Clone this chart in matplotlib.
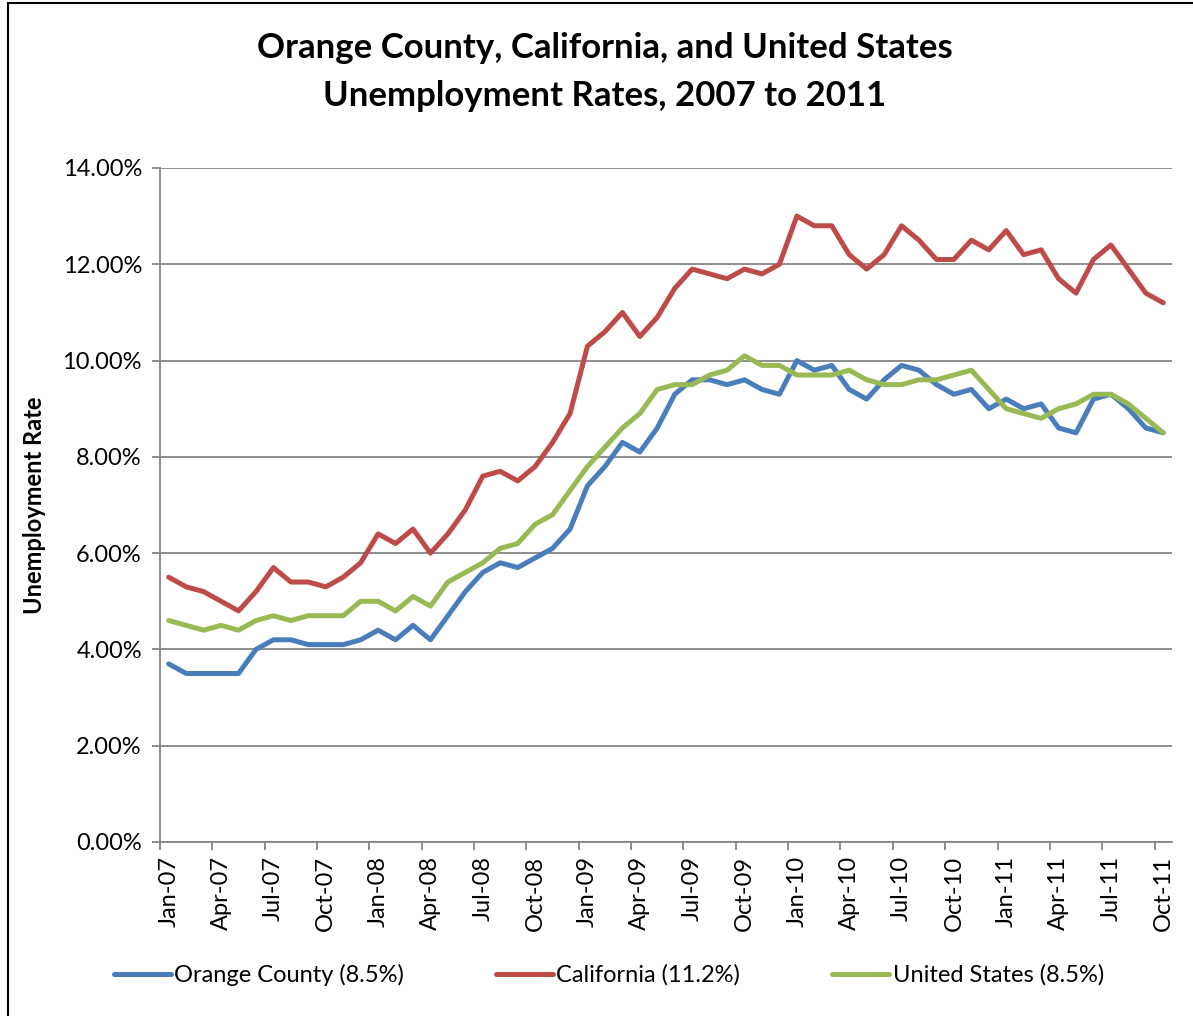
import matplotlib.pyplot as plt
from matplotlib.patches import Rectangle
from matplotlib.ticker import FuncFormatter

# monthly rates, Jan-07 .. Oct-11
months = []
for yr in range(7, 12):
    for m in ['Jan', 'Feb', 'Mar', 'Apr', 'May', 'Jun', 'Jul', 'Aug', 'Sep', 'Oct', 'Nov', 'Dec']:
        months.append('%s-%02d' % (m, yr))
months = months[:58]

orange_county = [3.7, 3.5, 3.5, 3.5, 3.5, 4.0, 4.2, 4.2, 4.1, 4.1, 4.1, 4.2, 4.4, 4.2, 4.5, 4.2, 4.7, 5.2, 5.6, 5.8,
                 5.7, 5.9, 6.1, 6.5, 7.4, 7.8, 8.3, 8.1, 8.6, 9.3, 9.6, 9.6, 9.5, 9.6, 9.4, 9.3, 10.0, 9.8, 9.9,
                 9.4, 9.2, 9.6, 9.9, 9.8, 9.5, 9.3, 9.4, 9.0, 9.2, 9.0, 9.1, 8.6, 8.5, 9.2, 9.3, 9.0, 8.6, 8.5]
california = [5.5, 5.3, 5.2, 5.0, 4.8, 5.2, 5.7, 5.4, 5.4, 5.3, 5.5, 5.8, 6.4, 6.2, 6.5, 6.0, 6.4, 6.9, 7.6, 7.7,
              7.5, 7.8, 8.3, 8.9, 10.3, 10.6, 11.0, 10.5, 10.9, 11.5, 11.9, 11.8, 11.7, 11.9, 11.8, 12.0, 13.0, 12.8, 12.8,
              12.2, 11.9, 12.2, 12.8, 12.5, 12.1, 12.1, 12.5, 12.3, 12.7, 12.2, 12.3, 11.7, 11.4, 12.1, 12.4, 11.9, 11.4, 11.2]
united_states = [4.6, 4.5, 4.4, 4.5, 4.4, 4.6, 4.7, 4.6, 4.7, 4.7, 4.7, 5.0, 5.0, 4.8, 5.1, 4.9, 5.4, 5.6, 5.8, 6.1,
                 6.2, 6.6, 6.8, 7.3, 7.8, 8.2, 8.6, 8.9, 9.4, 9.5, 9.5, 9.7, 9.8, 10.1, 9.9, 9.9, 9.7, 9.7, 9.7,
                 9.8, 9.6, 9.5, 9.5, 9.6, 9.6, 9.7, 9.8, 9.4, 9.0, 8.9, 8.8, 9.0, 9.1, 9.3, 9.3, 9.1, 8.8, 8.5]
series_names = ['Orange County (8.5%)', 'California (11.2%)', 'United States (8.5%)']
colors = ['#4A7EBB', '#BE4B48', '#98B954']

plt.rcParams['font.family'] = ['Lato', 'DejaVu Sans']

fig = plt.figure(figsize=(11.93, 10.16), dpi=100)
ax = fig.add_axes([160 / 1193, 1 - 842 / 1016, (1172 - 160) / 1193, (842 - 168) / 1016])

x = list(range(len(months)))
for vals, name, c in zip([orange_county, california, united_states], series_names, colors):
    ax.plot(x, vals, color=c, lw=3.6, label=name, solid_joinstyle='round', solid_capstyle='round')

ax.set_xlim(-0.5, len(months) - 0.5)
ax.set_ylim(0, 14)
ax.set_yticks(range(0, 15, 2))
ax.yaxis.set_major_formatter(FuncFormatter(lambda v, p: '%.2f%%' % v))
ax.grid(axis='y', color='#868686', lw=1.3)
ax.set_axisbelow(True)

# labels on every 3rd month, tick marks between categories
ax.set_xticks(x[::3])
ax.set_xticklabels(months[::3], rotation=90, fontsize=17)
ax.set_xticks([i - 0.5 for i in x[::3]], minor=True)
ax.tick_params(axis='x', which='major', length=0, pad=10)
ax.tick_params(axis='x', which='minor', length=6, color='#868686', width=1.3)
ax.tick_params(axis='y', length=6, color='#868686', width=1.3, labelsize=17, pad=7)

for s in ['top', 'right']:
    ax.spines[s].set_visible(False)
for s in ['left', 'bottom']:
    ax.spines[s].set_color('#868686')
    ax.spines[s].set_linewidth(1.3)

ax.set_ylabel('Unemployment Rate', fontsize=17, fontweight='bold')
ax.yaxis.set_label_coords((46 - 160) / 1012, 0.5)

fig.text(605 / 1193, 1 - 48 / 1016, 'Orange County, California, and United States', ha='center', va='center',
         fontsize=25, fontweight='bold')
fig.text(605 / 1193, 1 - 96 / 1016, 'Unemployment Rates, 2007 to 2011', ha='center', va='center',
         fontsize=25, fontweight='bold')

fig.legend(loc='center', bbox_to_anchor=(609 / 1193, 1 - 975 / 1016), ncol=3, frameon=False, fontsize=17,
           handlelength=2.4, handletextpad=0.15, columnspacing=3.9)

fig.patches.append(Rectangle((8 / 1193, -0.05), 1.2, 1.05 - 3 / 1016, transform=fig.transFigure,
                             fill=False, edgecolor='black', lw=1.5))

fig.savefig('out.png', dpi=100)
